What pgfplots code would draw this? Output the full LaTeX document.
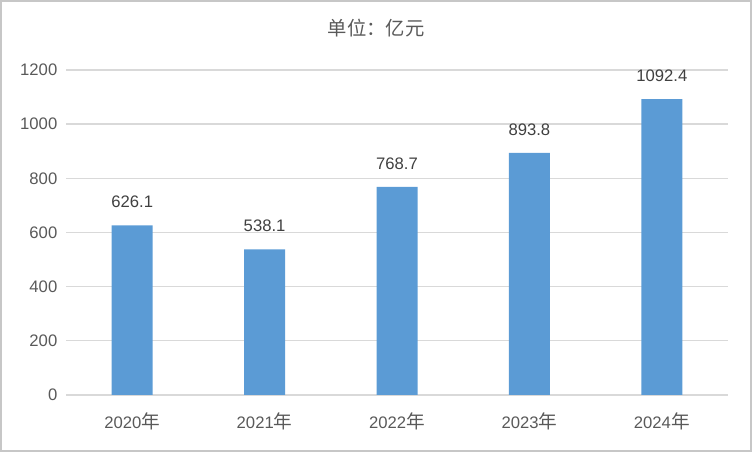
\documentclass[border=0pt]{standalone}
\usepackage{pgfplots}
\pgfplotsset{compat=1.18}
\usepackage{fontspec}
\setmainfont{Liberation Sans}
\newfontfamily\cjk{Noto Sans CJK SC}
\definecolor{barblue}{HTML}{5B9BD5}
\definecolor{gridgray}{HTML}{D9D9D9}
\definecolor{txtgray}{HTML}{595959}
\definecolor{lblgray}{HTML}{404040}
\begin{document}
\begin{tikzpicture}
\useasboundingbox (-49.5pt,-42.75pt) rectangle (514.5pt,296.25pt);
\draw[gridgray!80!gray, line width=1.2pt] (-48.9pt,-42.15pt) rectangle (513.9pt,295.65pt);
\begin{axis}[
  anchor=south west, at={(0,0)},
  scale only axis, width=496.5pt, height=243.75pt,
  xmin=-0.5, xmax=4.5, ymin=0, ymax=1200,
  ytick={0,200,...,1200},
  xtick={0,1,2,3,4},
  xticklabels={{2020{\cjk\fontsize{14}{14}\selectfont 年}},{2021{\cjk\fontsize{14}{14}\selectfont 年}},{2022{\cjk\fontsize{14}{14}\selectfont 年}},{2023{\cjk\fontsize{14}{14}\selectfont 年}},{2024{\cjk\fontsize{14}{14}\selectfont 年}}},
  axis line style={draw=none},
  axis x line*=bottom,
  major tick length=0pt,
  ymajorgrids, grid style={gridgray, line width=1pt},
  tick label style={font=\fontsize{12.5}{14}\selectfont, text=txtgray},
  /pgf/number format/assume math mode=true,
  /pgf/number format/1000 sep={},
  yticklabel style={xshift=-3pt},
  xticklabel style={yshift=-10pt},
  scaled y ticks=false,
  ybar, bar width=30.75pt,
  nodes near coords,
  every node near coord/.append style={font=\fontsize{12.5}{14}\selectfont, text=lblgray, yshift=9.5pt},
  nodes near coords style={/pgf/number format/.cd, fixed, fixed zerofill, precision=1, 1000 sep={}, assume math mode=true},
  clip=false,
]
\draw[gridgray, line width=1pt] (axis cs:-0.5,0) -- (axis cs:4.5,0);
\addplot[fill=barblue, draw=none] coordinates {(0,626.1) (1,538.1) (2,768.7) (3,893.8) (4,1092.4)};
\end{axis}
\node[text=txtgray, font=\cjk\fontsize{14.5}{16}\selectfont] at (232.5pt,275pt) {单位：亿元};
\end{tikzpicture}
\end{document}
